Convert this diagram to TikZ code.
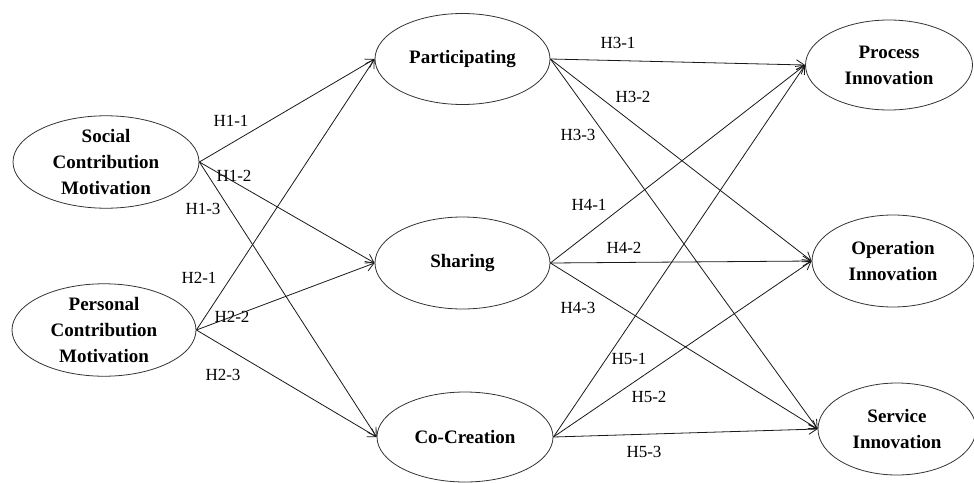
\documentclass[tikz,border=0pt]{standalone}
\usepackage{fontspec}
\setmainfont{Liberation Serif}
\usetikzlibrary{shapes.geometric,arrows.meta}
\tikzset{
  var/.style={draw=black!80, line width=0.8pt, ellipse, inner sep=0pt, align=center,
    font=\fontsize{19}{26}\selectfont\bfseries},
  hyp/.style={font=\fontsize{17}{20}\selectfont, inner sep=0pt},
  link/.style={draw=black!90, line width=0.8pt, -{Straight Barb[length=8pt,width=10pt,line width=0.8pt]}}
}
\begin{document}
\begin{tikzpicture}[x=1pt,y=-1pt]
\useasboundingbox (0,0) rectangle (974,482);
% left
\node[var, minimum width=186pt, minimum height=90pt] (soc) at (106,162) {Social\\Contribution\\Motivation};
\node[var, minimum width=184pt, minimum height=90pt] (per) at (104,330) {Personal\\Contribution\\Motivation};
% middle
\node[var, minimum width=175pt, minimum height=91pt] (par) at (462.5,59) {Participating};
\node[var, minimum width=175pt, minimum height=92pt] (sha) at (462.5,263) {Sharing};
\node[var, minimum width=176pt, minimum height=90pt] (coc) at (465,437) {Co-Creation};
% right
\node[var, minimum width=167pt, minimum height=90pt] (pro) at (889,65) {Process\\Innovation};
\node[var, minimum width=162pt, minimum height=92pt] (ope) at (893,261) {Operation\\Innovation};
\node[var, minimum width=158pt, minimum height=92pt] (ser) at (897,429) {Service\\Innovation};
% edges
\draw[link] (soc.east) -- (par.west);
\draw[link] (soc.east) -- (sha.west);
\draw[link] (soc.east) -- (coc.west);
\draw[link] (per.east) -- (par.west);
\draw[link] (per.east) -- (sha.west);
\draw[link] (per.east) -- (coc.west);
\draw[link] (par.east) -- (pro.west);
\draw[link] (par.east) -- (ope.west);
\draw[link] (par.east) -- (ser.west);
\draw[link] (sha.east) -- (pro.west);
\draw[link] (sha.east) -- (ope.west);
\draw[link] (sha.east) -- (ser.west);
\draw[link] (coc.east) -- (pro.west);
\draw[link] (coc.east) -- (ope.west);
\draw[link] (coc.east) -- (ser.west);
% labels
\node[hyp] (h11) at (231,121) {H1-1};
\node[hyp] (h12) at (234,176) {H1-2};
\node[hyp] (h13) at (203,209) {H1-3};
\node[hyp] (h21) at (199,278) {H2-1};
\node[hyp] (h22) at (232,317) {H2-2};
\node[hyp] (h23) at (223,375) {H2-3};
\node[hyp] (h31) at (618,43) {H3-1};
\node[hyp] (h32) at (633,97) {H3-2};
\node[hyp] (h33) at (578,135) {H3-3};
\node[hyp] (h41) at (589,205) {H4-1};
\node[hyp] (h42) at (624,248) {H4-2};
\node[hyp] (h43) at (578,308) {H4-3};
\node[hyp] (h51) at (629,359) {H5-1};
\node[hyp] (h52) at (649,397) {H5-2};
\node[hyp] (h53) at (644,452) {H5-3};
\end{tikzpicture}
\end{document}
